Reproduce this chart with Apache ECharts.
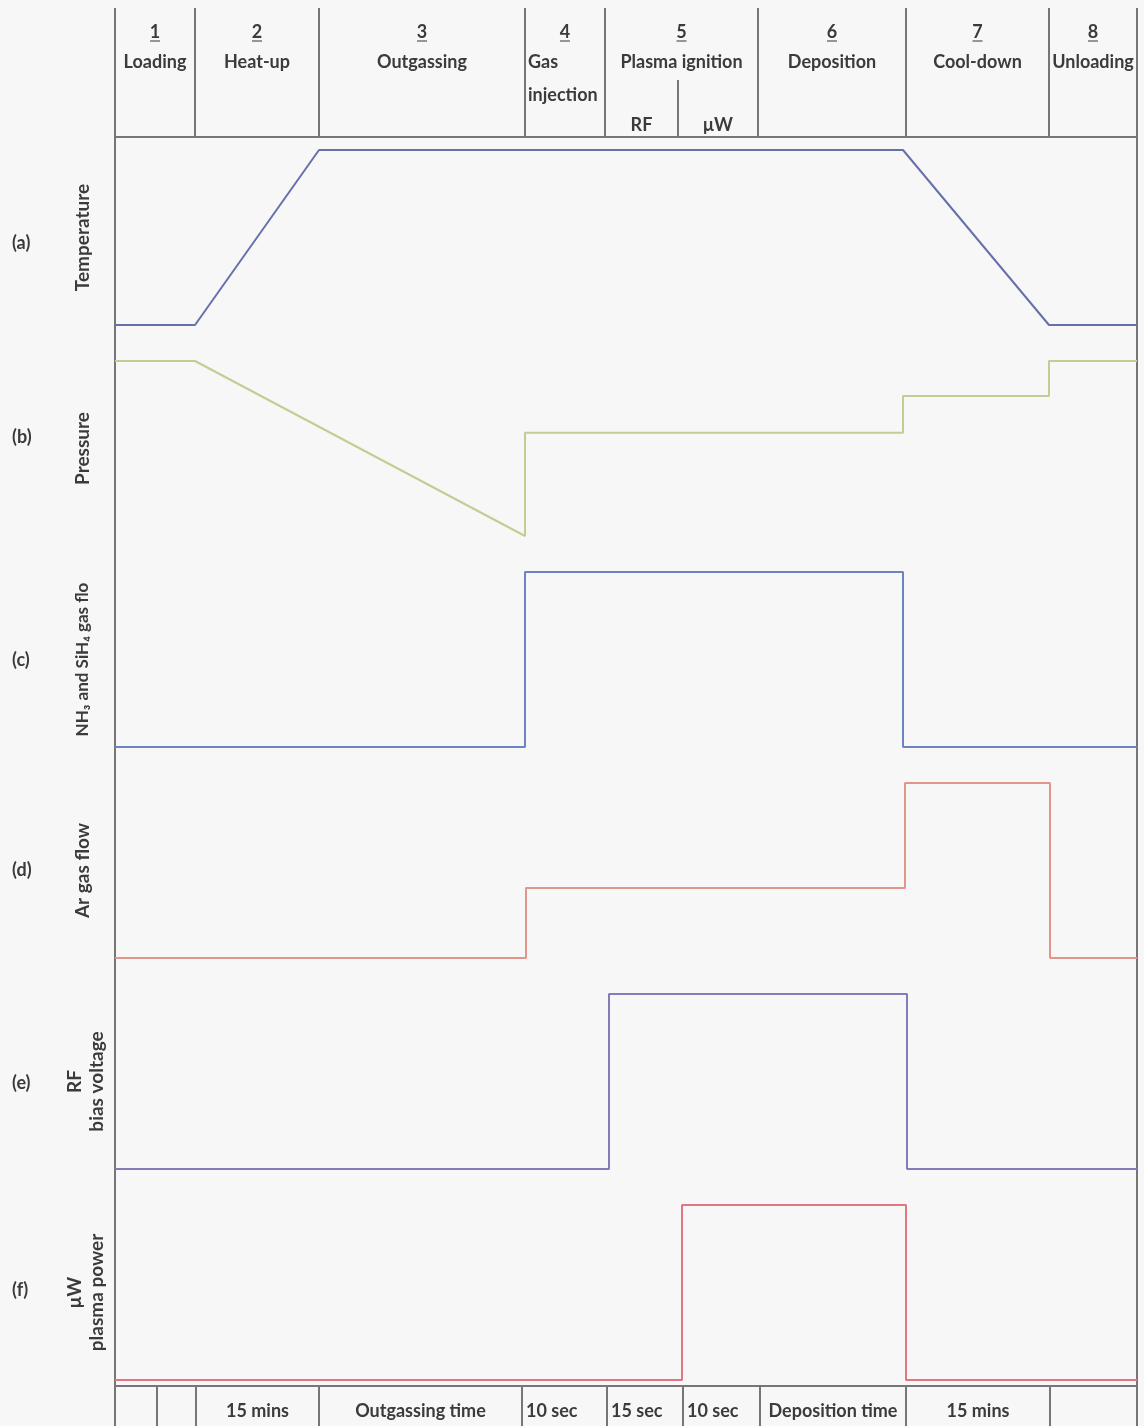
<!DOCTYPE html>
<html>
<head>
<meta charset="utf-8">
<script src="https://cdn.jsdelivr.net/npm/echarts@6/dist/echarts.min.js"></script>
<style>
  html, body { margin: 0; padding: 0; background: #f7f7f7; }
  #chart { width: 1144px; height: 1426px; }
</style>
</head>
<body>
<div id="chart"></div>
<script>
// Schematic process time axis (arbitrary units, not to scale)
const T_END = 1022;

// Process steps shown in the header row
const phaseEdges = [0, 80, 204, 410, 490, 643, 791, 934, 1022];
const phaseNumbers = ['1', '2', '3', '4', '5', '6', '7', '8'];
const phaseNames = ['Loading', 'Heat-up', 'Outgassing', 'Gas injection', 'Plasma ignition', 'Deposition', 'Cool-down', 'Unloading'];
const ignitionSplit = 563;
const ignitionSubLabels = ['RF', 'μW'];

// Step durations shown in the footer row
const durationEdges = [0, 42, 81, 204, 407, 492, 568, 645, 791, 935, 1022];
const durationLabels = ['', '', '15 mins', 'Outgassing time', '10 sec', '15 sec', '10 sec', 'Deposition time', '15 mins', ''];
const durationLeftAligned = [false, false, false, false, true, true, true, false, false, false];

// Signal traces: [time, relative level 0..1]
const temperature = [[0, 0], [80, 0], [204, 1], [788, 1], [934, 0], [1022, 0]];
const pressure = [[0, 1], [80, 1], [410, 0], [410, 0.59], [788, 0.59], [788, 0.8], [934, 0.8], [934, 1], [1022, 1]];
const reactiveGasFlow = [[0, 0], [410, 0], [410, 1], [788, 1], [788, 0], [1022, 0]];
const argonFlow = [[0, 0], [411, 0], [411, 0.4], [790, 0.4], [790, 1], [935, 1], [935, 0], [1022, 0]];
const rfBias = [[0, 0], [494, 0], [494, 1], [792, 1], [792, 0], [1022, 0]];
const microwavePower = [[0, 0], [567, 0], [567, 1], [791, 1], [791, 0], [1022, 0]];

const panelLetters = ['(a)', '(b)', '(c)', '(d)', '(e)', '(f)'];
const panelTitles = ['Temperature', 'Pressure', 'NH₃ and SiH₄ gas flow', 'Ar gas flow', 'RF\nbias voltage', 'μW\nplasma power'];
const panelData = [temperature, pressure, reactiveGasFlow, argonFlow, rfBias, microwavePower];
const panelColors = ['#6770ab', '#c2cd93', '#6d84c2', '#e3958b', '#857bba', '#e2757f'];

// ---- layout ----
const LEFT = 115, RIGHT = 1144 - 1137;
const PANEL_TOP = 150, PANEL_PITCH = 211, PANEL_H = 175;
const LETTER_Y = [243, 437, 660, 870, 1083, 1290];
const HEADER_TOP = 8, HEADER_H = 129;
const FOOTER_TOP = 1386, FOOTER_H = 40;
const FRAME = '#767676';
const TEXT = '#3b3b3b';
const FONT = 'Lato, "Noto Sans", "DejaVu Sans", sans-serif';
const FS = 18;

const grids = [], xAxes = [], yAxes = [], series = [], graphics = [];

function addGrid(top, height) {
  const idx = grids.length;
  grids.push({ left: LEFT, right: RIGHT, top: top, height: height, containLabel: false });
  xAxes.push({ gridIndex: idx, type: 'value', min: 0, max: T_END, show: false });
  return idx;
}

// signal panels
panelData.forEach((data, i) => {
  const top = PANEL_TOP + PANEL_PITCH * i;
  const g = addGrid(top, PANEL_H);
  const twoLine = panelTitles[i].indexOf('\n') >= 0;
  const axis = {
    gridIndex: g, type: 'value', min: 0, max: 1,
    axisLine: { show: false }, axisTick: { show: false },
    axisLabel: { show: false }, splitLine: { show: false },
    name: panelTitles[i], nameLocation: 'middle', nameRotate: 90,
    nameGap: twoLine ? 7 : 21,
    nameTextStyle: {
      fontFamily: FONT, fontSize: i === 2 ? 17 : 19, fontWeight: 'bold', color: TEXT,
      lineHeight: 22, align: 'center'
    }
  };
  // the long gas-flow title is cut at the panel height
  if (i === 2) axis.nameTruncate = { maxWidth: 168, ellipsis: '' };
  yAxes.push(axis);
  series.push({
    type: 'line', xAxisIndex: g, yAxisIndex: g, data: data,
    symbol: 'none', clip: false, animation: false,
    lineStyle: { color: panelColors[i], width: 2 }
  });
  graphics.push({
    type: 'text', x: 12, y: LETTER_Y[i],
    style: { text: panelLetters[i], verticalAlign: 'middle', align: 'left',
             fontFamily: FONT, fontSize: FS, fontWeight: 'bold', fill: TEXT }
  });
});

function hiddenY(g) {
  yAxes.push({ gridIndex: g, type: 'value', min: 0, max: 1, show: false });
}

function line(x1, y1, x2, y2, w) {
  return { type: 'line', shape: { x1, y1, x2, y2 }, style: { stroke: FRAME, lineWidth: w || 2 } };
}
function label(text, x, y, align) {
  return {
    type: 'text', x: x, y: y,
    style: { text: text, align: align || 'center', verticalAlign: 'middle',
             fontFamily: FONT, fontSize: FS, fontWeight: 'bold', fill: TEXT }
  };
}

// header row: step numbers and names
const gHead = addGrid(HEADER_TOP, HEADER_H);
hiddenY(gHead);
series.push({
  type: 'custom', xAxisIndex: gHead, yAxisIndex: gHead, clip: false, animation: false,
  data: phaseNames.map((n, i) => [phaseEdges[i], phaseEdges[i + 1], i]),
  renderItem: function (params, api) {
    const cs = params.coordSys;
    const i = api.value(2);
    const x0 = api.coord([api.value(0), 0])[0];
    const x1 = api.coord([api.value(1), 0])[0];
    const xc = (x0 + x1) / 2;
    const top = cs.y, bot = cs.y + cs.height;
    const els = [
      line(x1, top, x1, bot),
      line(x0, bot, x1, bot),
      label(phaseNumbers[i], xc, top + 24),
      line(xc - 5, top + 33, xc + 5, top + 33, 1.5)
    ];
    if (phaseNames[i] === 'Gas injection') {
      els.push(label('Gas', x0 + 3, top + 54, 'left'));
      els.push(label('injection', x0 + 3, top + 87, 'left'));
    } else {
      els.push(label(phaseNames[i], xc, top + 54));
    }
    if (phaseNames[i] === 'Plasma ignition') {
      const xs = api.coord([ignitionSplit, 0])[0];
      els.push(line(xs, top + 72, xs, bot));
      els.push(label(ignitionSubLabels[0], (x0 + xs) / 2, top + 117));
      els.push(label(ignitionSubLabels[1], (xs + x1) / 2, top + 117));
    }
    return { type: 'group', children: els };
  }
});

// footer row: step durations
const gFoot = addGrid(FOOTER_TOP, FOOTER_H);
hiddenY(gFoot);
series.push({
  type: 'custom', xAxisIndex: gFoot, yAxisIndex: gFoot, clip: false, animation: false,
  data: durationLabels.map((t, i) => [durationEdges[i], durationEdges[i + 1], i]),
  renderItem: function (params, api) {
    const cs = params.coordSys;
    const i = api.value(2);
    const x0 = api.coord([api.value(0), 0])[0];
    const x1 = api.coord([api.value(1), 0])[0];
    const top = cs.y, bot = cs.y + cs.height;
    const els = [line(x1, top, x1, bot), line(x0, top, x1, top)];
    if (durationLabels[i]) {
      els.push(durationLeftAligned[i]
        ? label(durationLabels[i], x0 + 4, top + 25, 'left')
        : label(durationLabels[i], (x0 + x1) / 2, top + 25));
    }
    return { type: 'group', children: els };
  }
});

// outer frame: left and right borders over the full height
const gFrame = addGrid(HEADER_TOP, 1426 - HEADER_TOP);
hiddenY(gFrame);
series.push({
  type: 'custom', xAxisIndex: gFrame, yAxisIndex: gFrame, clip: false, animation: false,
  data: [[0], [T_END]],
  renderItem: function (params, api) {
    const cs = params.coordSys;
    const x = api.coord([api.value(0), 0])[0];
    return line(x, cs.y, x, cs.y + cs.height);
  }
});

const chart = echarts.init(document.getElementById('chart'), null, { renderer: 'canvas' });
chart.setOption({
  backgroundColor: '#f7f7f7',
  animation: false,
  graphic: graphics,
  grid: grids,
  xAxis: xAxes,
  yAxis: yAxes,
  series: series
});
</script>
</body>
</html>
